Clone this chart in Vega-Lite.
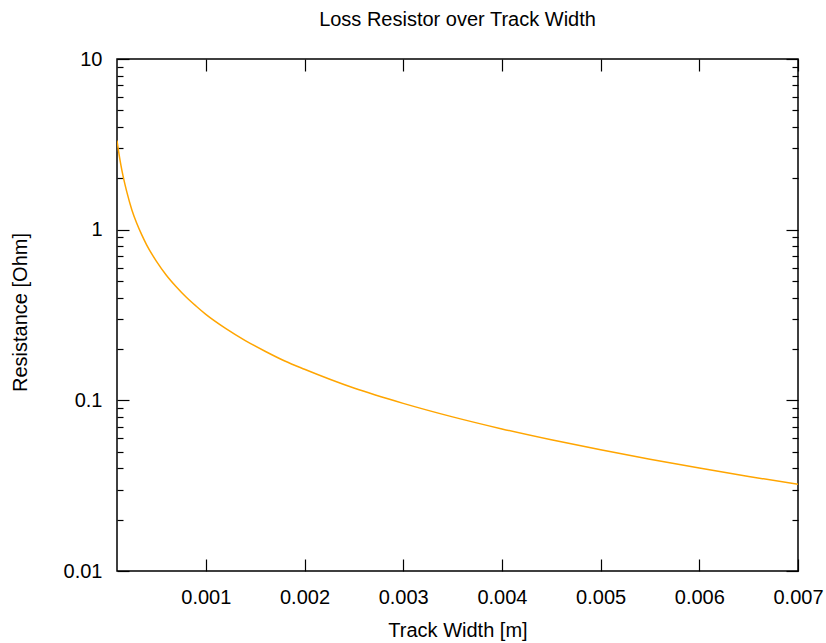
{
  "$schema": "https://vega.github.io/schema/vega-lite/v6.json",
  "autosize": "none",
  "width": 681,
  "height": 512,
  "padding": {"left": 117, "top": 59, "right": 28, "bottom": 72},
  "background": "white",
  "config": {
    "view": {"stroke": "black", "strokeWidth": 1.5},
    "font": "Liberation Sans",
    "axis": {"domain": false, "grid": false, "tickColor": "black", "tickWidth": 1.2, "labelColor": "black", "titleColor": "black", "labelFont": "Liberation Sans", "titleFont": "Liberation Sans", "labelFontSize": 20, "titleFontSize": 20, "titleFontWeight": "normal", "labelFlush": false, "labelOverlap": false}
  },
  "title": {"text": "Loss Resistor over Track Width", "anchor": "middle", "fontSize": 20, "fontWeight": "normal", "font": "Liberation Sans", "color": "black", "offset": 19},
  "data": {"values": [
    {"w": 0.0001, "r": 3.33},
    {"w": 0.00012, "r": 2.78},
    {"w": 0.00014, "r": 2.38},
    {"w": 0.00016, "r": 2.08},
    {"w": 0.00018, "r": 1.85},
    {"w": 0.0002, "r": 1.66},
    {"w": 0.00025, "r": 1.31},
    {"w": 0.0003, "r": 1.09},
    {"w": 0.00035, "r": 0.935},
    {"w": 0.0004, "r": 0.815},
    {"w": 0.0005, "r": 0.652},
    {"w": 0.0006, "r": 0.541},
    {"w": 0.0007, "r": 0.463},
    {"w": 0.0008, "r": 0.403},
    {"w": 0.0009, "r": 0.357},
    {"w": 0.001, "r": 0.319},
    {"w": 0.0012, "r": 0.264},
    {"w": 0.0014, "r": 0.224},
    {"w": 0.0016, "r": 0.194},
    {"w": 0.0018, "r": 0.170},
    {"w": 0.002, "r": 0.152},
    {"w": 0.0025, "r": 0.118},
    {"w": 0.003, "r": 0.096},
    {"w": 0.0035, "r": 0.080},
    {"w": 0.004, "r": 0.068},
    {"w": 0.0045, "r": 0.0587},
    {"w": 0.005, "r": 0.0513},
    {"w": 0.0055, "r": 0.0452},
    {"w": 0.006, "r": 0.0401},
    {"w": 0.0065, "r": 0.0358},
    {"w": 0.007, "r": 0.0322}
  ]},
  "resolve": {"axis": {"x": "independent", "y": "independent"}},
  "layer": [
    {
      "mark": {"type": "line", "color": "#FFA500", "strokeWidth": 1.5, "interpolate": "monotone", "clip": true},
      "encoding": {
        "x": {"field": "w", "type": "quantitative", "scale": {"domain": [0.0001, 0.007], "nice": false, "zero": false},
              "axis": {"orient": "bottom", "values": [0.001, 0.002, 0.003, 0.004, 0.005, 0.006, 0.007], "format": ".3f", "tickSize": -12, "labelPadding": 28, "title": "Track Width [m]", "titleX": 340.5, "titleY": 59, "titleBaseline": "middle", "titleAlign": "center"}},
        "y": {"field": "r", "type": "quantitative", "scale": {"type": "log", "domain": [0.01, 10], "nice": false},
              "axis": {"orient": "left", "values": [0.01, 0.1, 1, 10], "format": "~g", "tickSize": -12, "labelPadding": 27, "title": "Resistance [Ohm]", "titleX": -97, "titleY": 253, "titleAngle": -90, "titleBaseline": "middle", "titleAlign": "center"}}
      }
    },
    {
      "mark": {"type": "line", "strokeOpacity": 0},
      "encoding": {
        "x": {"field": "w", "type": "quantitative", "axis": {"orient": "top", "values": [0.001, 0.002, 0.003, 0.004, 0.005, 0.006, 0.007], "tickSize": -12, "labels": false, "title": null}},
        "y": {"field": "r", "type": "quantitative", "axis": {"orient": "right", "values": [0.01, 0.1, 1, 10], "tickSize": -12, "labels": false, "title": null}}
      }
    },
    {
      "mark": {"type": "line", "strokeOpacity": 0},
      "encoding": {
        "x": {"field": "w", "type": "quantitative", "axis": null},
        "y": {"field": "r", "type": "quantitative", "axis": {"orient": "left", "values": [0.02, 0.03, 0.04, 0.05, 0.06, 0.07, 0.08, 0.09, 0.2, 0.3, 0.4, 0.5, 0.6, 0.7, 0.8, 0.9, 2, 3, 4, 5, 6, 7, 8, 9], "tickSize": -6, "labels": false, "title": null}}
      }
    },
    {
      "mark": {"type": "line", "strokeOpacity": 0},
      "encoding": {
        "x": {"field": "w", "type": "quantitative", "axis": null},
        "y": {"field": "r", "type": "quantitative", "axis": {"orient": "right", "values": [0.02, 0.03, 0.04, 0.05, 0.06, 0.07, 0.08, 0.09, 0.2, 0.3, 0.4, 0.5, 0.6, 0.7, 0.8, 0.9, 2, 3, 4, 5, 6, 7, 8, 9], "tickSize": -6, "labels": false, "title": null}}
      }
    }
  ]
}
